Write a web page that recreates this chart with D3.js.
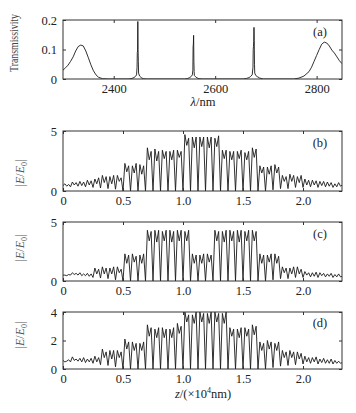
<!DOCTYPE html>
<html><head><meta charset="utf-8">
<script src="https://cdn.jsdelivr.net/npm/d3@7"></script>
<style>
html,body{margin:0;padding:0;background:#fff;}
</style></head>
<body><svg id="c" width="356" height="413"></svg>
<script>
// ---- Panel (a): transmission spectrum ----
const lambdaA = [2300,2305,2310,2315,2320,2325,2330,2335,2340,2345,2350,2355,2360,2365,2370,2378,2390,
  2430,2436,2440,2443,2445,2446,2446.5,2447,2447.5,2448,2448.5,2449,2451,2454,2458,2465,
  2540,2546,2550,2553,2555,2556,2556.5,2557,2557.5,2558,2558.5,2559,2561,2564,2568,2575,
  2655,2662,2667,2670,2673,2674.5,2675,2675.5,2676,2676.5,2677,2677.5,2678,2680,2683,2688,2695,
  2755,2765,2775,2785,2790,2795,2800,2805,2810,2815,2820,2825,2830,2835,2840,2845,2850];
const transA = [0.030,0.038,0.047,0.060,0.075,0.095,0.110,0.115,0.112,0.095,0.072,0.048,0.028,0.014,0.006,0.001,0,
  0,0.002,0.005,0.009,0.014,0.040,0.090,0.095,0.195,0.100,0.060,0.020,0.010,0.005,0.001,0,
  0,0.002,0.005,0.009,0.014,0.030,0.110,0.118,0.148,0.060,0.025,0.012,0.008,0.004,0.001,0,
  0,0.002,0.005,0.009,0.014,0.040,0.100,0.110,0.128,0.175,0.130,0.050,0.020,0.012,0.008,0.003,0,
  0,0.003,0.010,0.025,0.040,0.060,0.080,0.100,0.118,0.125,0.122,0.112,0.098,0.088,0.075,0.062,0.052];
const tickA = [2400,2600,2800];
const yTickA = [0,0.1,0.2];

// ---- Panels (b)-(d): field profiles, sampled every 1/64 (x10^4 nm) ----
const zSamples = d3.range(150).map(i => i / 64);
const fieldB = [0.45,0.6,0.4,0.55, 0.35,0.75,0.5,0.7, 0.4,0.8,0.45,0.75, 0.35,0.9,0.5,0.85, 0.3,1.0,0.6,1.1,
  0.25,1.3,0.7,1.2, 0.2,1.2,0.6,1.3, 0.15,1.3,0.8,1.1, 0,2.3,1.6,2.1, 0,2.1,1.5,2.3, 0,2.2,1.4,2.1,
  0,3.6,2.6,3.3, 0,3.5,2.5,3.3, 0,3.4,2.7,3.3, 0,3.3,2.6,3.4, 0,3.4,2.8,3.3,
  0,4.7,3.8,4.4, 0,4.5,3.6,4.5, 0,4.5,3.7,4.5, 0,4.5,3.6,4.5, 0,4.4,3.7,4.6,
  0,3.4,2.7,3.4, 0,3.3,2.6,3.3, 0,3.3,2.7,3.4, 0,3.2,2.6,3.3, 0,3.6,2.8,3.5,
  0,2.1,1.5,2.0, 0,2.0,1.4,2.1, 0.1,2.2,1.5,2.0, 0.2,1.3,0.8,1.2, 0.2,1.4,0.8,1.3, 0.3,1.2,0.7,1.3,
  0.3,1.0,0.5,0.9, 0.35,0.9,0.5,0.85, 0.3,0.8,0.45,0.8, 0.35,0.75,0.4,0.7, 0.3,0.6,0.35,0.7, 0.4,0.5];
const fieldC = [0.5,0.5,0.45,0.55, 0.5,0.7,0.55,0.65, 0.5,0.7,0.45,0.6, 0.45,0.65,0.4,0.6, 0.3,1.1,0.6,1.0,
  0.25,1.2,0.6,1.1, 0.2,1.1,0.6,1.2, 0.1,1.2,0.7,1.0, 0,2.3,1.5,2.2, 0,2.3,1.6,2.1, 0,2.2,1.5,2.3,
  0,4.3,3.4,4.2, 0,4.3,3.3,4.3, 0,4.2,3.4,4.3, 0,4.3,3.3,4.2, 0,4.3,3.4,4.3, 0,4.2,3.4,4.3,
  0,2.3,1.5,2.2, 0,2.2,1.5,2.3, 0,2.3,1.6,2.2,
  0,4.3,3.4,4.2, 0,4.2,3.3,4.3, 0,4.3,3.4,4.2, 0,4.3,3.3,4.3, 0,4.2,3.4,4.3, 0,4.3,3.4,4.2,
  0,2.3,1.5,2.2, 0,2.2,1.6,2.3, 0.1,2.3,1.5,2.1, 0.2,1.2,0.7,1.1, 0.2,1.1,0.6,1.2, 0.3,1.2,0.6,1.0,
  0.3,0.8,0.5,0.7, 0.35,0.7,0.4,0.75, 0.3,0.7,0.45,0.65, 0.35,0.6,0.4,0.65, 0.3,0.55,0.35,0.6, 0.35,0.4];
const fieldD = [0.6,0.5,0.55,0.65, 0.5,0.85,0.6,0.7, 0.55,0.75,0.5,0.8, 0.45,0.7,0.5,0.75, 0.4,0.9,0.5,0.8,
  0.3,1.4,0.8,1.2, 0.25,1.3,0.7,1.3, 0.15,1.3,0.8,1.2, 0,2.1,1.4,1.9, 0,1.9,1.3,1.8, 0,1.8,1.3,1.9,
  0,3.1,2.3,2.9, 0,2.8,2.2,2.9, 0,2.9,2.2,2.8, 0,2.8,2.2,2.9, 0,3.2,2.5,3.0,
  0,4.0,3.3,3.8, 0,3.8,3.2,4.0, 0,4.0,3.3,3.9, 0,3.9,3.2,4.0, 0,4.0,3.3,3.9, 0,3.9,3.2,4.0,
  0,2.9,2.3,2.8, 0,2.8,2.2,2.9, 0,2.9,2.3,2.8, 0,3.1,2.4,3.0,
  0,1.9,1.3,1.8, 0,2.0,1.4,1.9, 0.1,1.8,1.3,1.9, 0.2,1.3,0.8,1.2, 0.25,1.3,0.8,1.2, 0.3,1.2,0.7,1.1,
  0.35,0.9,0.5,0.8, 0.4,0.8,0.5,0.85, 0.35,0.7,0.45,0.75, 0.4,0.65,0.4,0.7, 0.35,0.6,0.4,0.55, 0.4,0.45];
const tickZ = [0,0.5,1.0,1.5,2.0];
const yTickBC = [0,5];
const yTickD = [0,2,4];
const panelTags = ["(a)","(b)","(c)","(d)"];

// ---- drawing ----
const FONT = '"Liberation Serif","Times New Roman",Times,serif';
const svg = d3.select("#c");
svg.append("rect").attr("width",356).attr("height",413).attr("fill","#fff");
const L = 63, R = 342;
const lineColor = "#1a1a1a", textColor = "#222";

function panel(cfg){
  const x = d3.scaleLinear().domain(cfg.xd).range([L,R]);
  const y = d3.scaleLinear().domain(cfg.yd).range([cfg.bottom,cfg.top]);
  const g = svg.append("g");
  const id = "clip"+cfg.tag.replace(/\W/g,"");
  svg.append("clipPath").attr("id",id).append("rect")
    .attr("x",L).attr("y",cfg.top).attr("width",R-L).attr("height",cfg.bottom-cfg.top);
  g.append("path").datum(cfg.xs.map((v,i)=>[v,cfg.ys[i]]))
    .attr("clip-path",`url(#${id})`)
    .attr("fill","none").attr("stroke",lineColor).attr("stroke-width",0.9)
    .attr("stroke-linejoin","round")
    .attr("d",d3.line().x(d=>x(d[0])).y(d=>y(d[1])));
  const ax = g.append("g").attr("transform",`translate(0,${cfg.bottom})`)
    .call(d3.axisBottom(x).tickValues(cfg.xt).tickSize(-3).tickSizeOuter(0).tickPadding(5).tickFormat(cfg.xfmt));
  const axt = g.append("g").attr("transform",`translate(0,${cfg.top})`)
    .call(d3.axisTop(x).tickValues(cfg.xt).tickSize(-3).tickSizeOuter(0).tickFormat(""));
  const ay = g.append("g").attr("transform",`translate(${L},0)`)
    .call(d3.axisLeft(y).tickValues(cfg.yt).tickSize(-3).tickSizeOuter(0).tickPadding(6).tickFormat(cfg.yfmt));
  const ayr = g.append("g").attr("transform",`translate(${R},0)`)
    .call(d3.axisRight(y).tickValues(cfg.yt).tickSize(-3).tickSizeOuter(0).tickFormat(""));
  [ax,axt,ay,ayr].forEach(a=>{
    a.attr("font-family",FONT);
    a.select(".domain").remove();
    a.selectAll("line").attr("stroke","#333");
    a.selectAll("text").attr("fill",textColor).style("font-size","12.5px");
  });
  g.append("rect").attr("x",L).attr("y",cfg.top).attr("width",R-L).attr("height",cfg.bottom-cfg.top)
    .attr("fill","none").attr("stroke","#333").attr("stroke-width",1);
  g.append("text").attr("x",cfg.tagX).attr("y",cfg.top+cfg.tagDy).attr("text-anchor","middle")
    .attr("fill",textColor).style("font-size","12.5px").text(cfg.tag);
  return g;
}

const fmtZ = d=> d===0?"0":d3.format(".1f")(d);
panel({xd:[2300,2850], yd:[0,0.2], top:20, bottom:79, xs:lambdaA, ys:transA,
  xt:tickA, yt:yTickA, xfmt:d3.format("d"), yfmt:d=> d===0?"0":d3.format(".1f")(d), tag:panelTags[0], tagX:320, tagDy:16});
panel({xd:[0,2.325], yd:[0,5], top:131, bottom:191, xs:zSamples, ys:fieldB,
  xt:tickZ, yt:yTickBC, xfmt:fmtZ, yfmt:d3.format("d"), tag:panelTags[1], tagX:320, tagDy:16});
panel({xd:[0,2.325], yd:[0,5], top:222, bottom:281, xs:zSamples, ys:fieldC,
  xt:tickZ, yt:yTickBC, xfmt:fmtZ, yfmt:d3.format("d"), tag:panelTags[2], tagX:320, tagDy:16});
panel({xd:[0,2.325], yd:[0,4], top:312, bottom:369, xs:zSamples, ys:fieldD,
  xt:tickZ, yt:yTickD, xfmt:fmtZ, yfmt:d3.format("d"), tag:panelTags[3], tagX:320, tagDy:15});

// axis titles
svg.append("text").attr("transform","translate(18,43) rotate(-90)").attr("text-anchor","middle")
  .attr("fill","#444").style("font-size","12px").attr("textLength",58).attr("lengthAdjust","spacingAndGlyphs")
  .text("Transmissivity");
const t1 = svg.append("text").attr("x",203).attr("y",106).attr("text-anchor","middle")
  .attr("fill",textColor).style("font-size","12.5px");
t1.append("tspan").style("font-style","italic").text("λ");
t1.append("tspan").text("/nm");

function eLabel(cx, cy){
  const t = svg.append("text").attr("transform",`translate(${cx},${cy}) rotate(-90)`)
    .attr("text-anchor","middle").attr("fill","#555").style("font-size","12px");
  t.append("tspan").text("|");
  t.append("tspan").style("font-style","italic").text("E");
  t.append("tspan").text("/");
  t.append("tspan").style("font-style","italic").text("E");
  t.append("tspan").attr("dy",3).style("font-size","8px").text("0");
  t.append("tspan").attr("dy",-3).text("|");
}
eLabel(24,173);
eLabel(24,248);
eLabel(24,335);

const t2 = svg.append("text").attr("x",203).attr("y",398).attr("text-anchor","middle")
  .attr("fill",textColor).style("font-size","12.5px");
t2.append("tspan").style("font-style","italic").text("z");
t2.append("tspan").text("/(×10");
t2.append("tspan").attr("dy",-5).style("font-size","8px").text("4");
t2.append("tspan").attr("dy",5).text("nm)");

svg.selectAll("text").style("font-family",FONT);
</script></body></html>
